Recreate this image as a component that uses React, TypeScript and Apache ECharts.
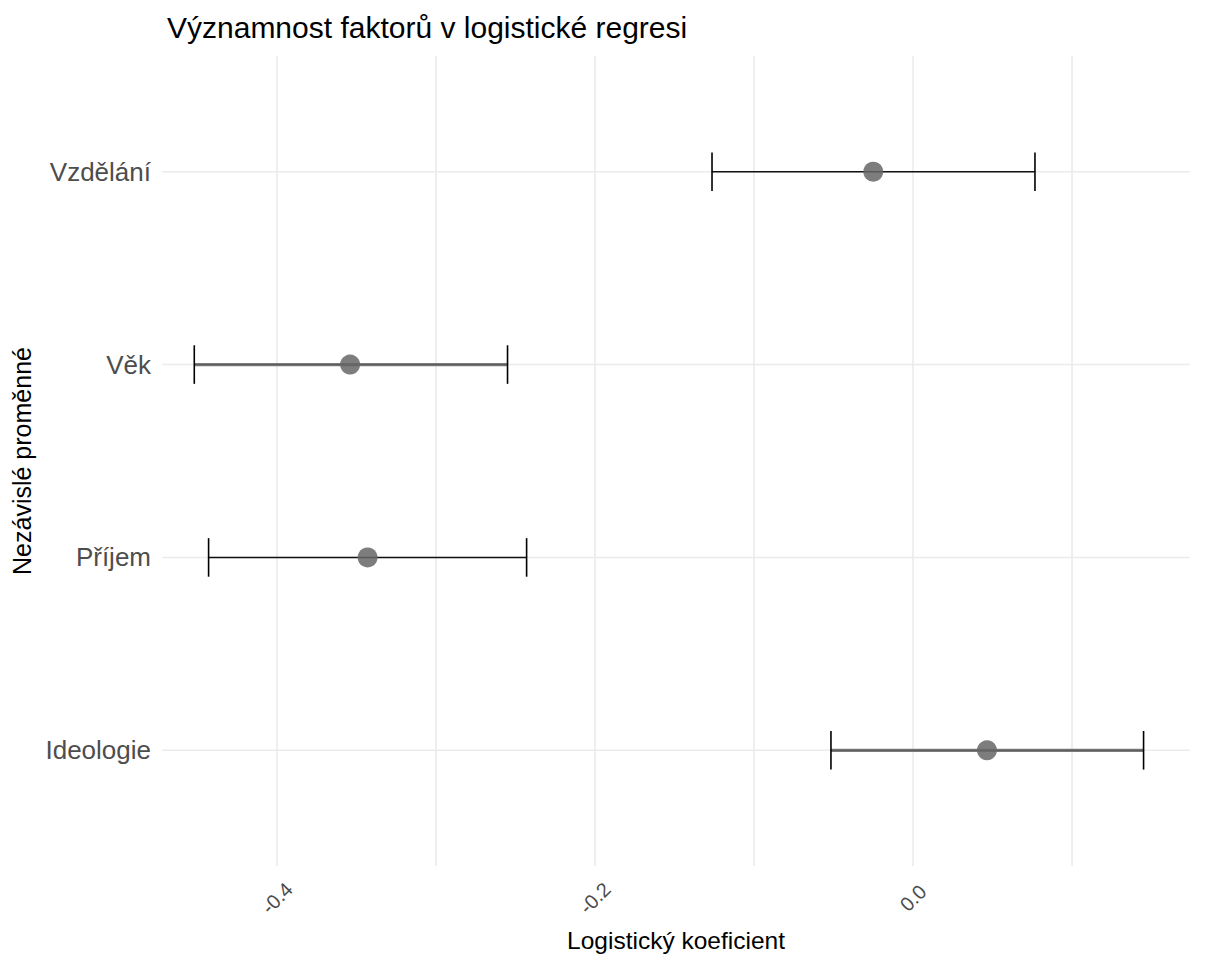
import React, { useEffect, useRef } from "react";
import * as echarts from "echarts";

// Categories listed bottom to top (position 1..4 on the y scale)
const categories = ["Ideologie", "Příjem", "Věk", "Vzdělání"];
const estimates = [0.0465, -0.343, -0.354, -0.025];
const ciLow = [-0.0516, -0.443, -0.452, -0.1264];
const ciHigh = [0.145, -0.243, -0.255, 0.0767];
const thickBar = [1, 0, 1, 0];
const xTickLabels = [-0.4, -0.2, 0.0];
const xGridValues = [-0.4, -0.3, -0.2, -0.1, 0.0, 0.1];

const FONT = "'Liberation Sans', Arial, sans-serif";

export default function App() {
  const ref = useRef<HTMLDivElement>(null);
  useEffect(() => {
    if (!ref.current) return;
    const chart = echarts.init(ref.current, null, { renderer: "svg" });
    const positions = categories.map((_, i) => i + 1);
    const option: any = {
      animation: false,
      backgroundColor: "#ffffff",
      textStyle: { fontFamily: FONT },
      title: {
        text: "Významnost faktorů v logistické regresi",
        left: 162,
        top: 7,
        textStyle: { fontFamily: FONT, fontSize: 30, fontWeight: "normal", color: "#000000" },
      },
      grid: {
        left: 162,
        right: 35,
        top: 56,
        bottom: 88,
        containLabel: false,
        outerBoundsMode: "none",
      },
      xAxis: {
        type: "value",
        min: -0.4723,
        max: 0.1742,
        name: "Logistický koeficient",
        nameLocation: "middle",
        nameGap: 62,
        nameTextStyle: { fontFamily: FONT, fontSize: 24.5, color: "#000000" },
        axisLine: { show: false },
        axisTick: { show: false },
        splitLine: { show: false },
        axisLabel: {
          customValues: xTickLabels,
          rotate: 45,
          margin: 32,
          align: "center",
          verticalAlign: "middle",
          fontFamily: FONT,
          fontSize: 20,
          color: "#4d4d4d",
          formatter: (v: number) => v.toFixed(1),
        },
      },
      yAxis: {
        type: "value",
        min: 0.4,
        max: 4.6,
        name: "Nezávislé proměnné",
        nameLocation: "middle",
        nameGap: 127,
        nameRotate: 90,
        nameTextStyle: { fontFamily: FONT, fontSize: 25, color: "#000000" },
        axisLine: { show: false },
        axisTick: { show: false },
        splitLine: { show: false },
        axisLabel: {
          customValues: positions,
          margin: 11,
          fontFamily: FONT,
          fontSize: 26,
          color: "#4d4d4d",
          formatter: (v: number) => categories[Math.round(v) - 1] ?? "",
        },
      },
      series: [
        {
          type: "custom",
          name: "vgrid",
          silent: true,
          z: 1,
          data: xGridValues.map((v) => [v, 1]),
          encode: { x: 0, y: 1 },
          renderItem: (params: any, api: any) => {
            const cs = params.coordSys;
            const p = api.coord([api.value(0), 1]);
            return {
              type: "line",
              shape: { x1: p[0], y1: cs.y, x2: p[0], y2: cs.y + cs.height },
              style: { stroke: "#ebebeb", lineWidth: 1.6 },
            };
          },
        },
        {
          type: "custom",
          name: "hgrid",
          silent: true,
          z: 1,
          data: positions.map((p) => [0, p]),
          encode: { x: 0, y: 1 },
          renderItem: (params: any, api: any) => {
            const cs = params.coordSys;
            const p = api.coord([0, api.value(1)]);
            return {
              type: "line",
              shape: { x1: cs.x, y1: p[1], x2: cs.x + cs.width, y2: p[1] },
              style: { stroke: "#ebebeb", lineWidth: 1.6 },
            };
          },
        },
        {
          type: "custom",
          name: "ci",
          silent: true,
          z: 3,
          clip: false,
          data: positions.map((p, i) => [p, ciLow[i], ciHigh[i], thickBar[i]]),
          encode: { x: [1, 2], y: 0 },
          renderItem: (params: any, api: any) => {
            const pos = api.value(0);
            const lo = api.coord([api.value(1), pos]);
            const hi = api.coord([api.value(2), pos]);
            const top = api.coord([api.value(1), pos + 0.1]);
            const bot = api.coord([api.value(1), pos - 0.1]);
            const thick = api.value(3) === 1;
            const children: any[] = [];
            if (thick) {
              children.push({
                type: "line",
                shape: { x1: lo[0], y1: lo[1], x2: hi[0], y2: hi[1] },
                style: { stroke: "#7b7b7b", lineWidth: 3.2 },
              });
              children.push({
                type: "line",
                shape: { x1: lo[0], y1: lo[1], x2: hi[0], y2: hi[1] },
                style: { stroke: "#5e5e5e", lineWidth: 1.2 },
              });
            } else {
              children.push({
                type: "line",
                shape: { x1: lo[0], y1: lo[1], x2: hi[0], y2: hi[1] },
                style: { stroke: "#111111", lineWidth: 1.6 },
              });
            }
            children.push({
              type: "line",
              shape: { x1: lo[0], y1: top[1], x2: lo[0], y2: bot[1] },
              style: { stroke: "#000000", lineWidth: 1.6 },
            });
            children.push({
              type: "line",
              shape: { x1: hi[0], y1: top[1], x2: hi[0], y2: bot[1] },
              style: { stroke: "#000000", lineWidth: 1.6 },
            });
            return { type: "group", children };
          },
        },
        {
          type: "scatter",
          name: "estimate",
          z: 4,
          symbol: "circle",
          symbolSize: 20,
          itemStyle: { color: "#666666", opacity: 0.85 },
          data: estimates.map((e, i) => [e, positions[i]]),
        },
      ],
    };
    chart.setOption(option);
    return () => chart.dispose();
  }, []);
  return (
    <div
      ref={ref}
      style={{ position: "absolute", left: 0, top: 0, width: 1225, height: 954 }}
    />
  );
}
